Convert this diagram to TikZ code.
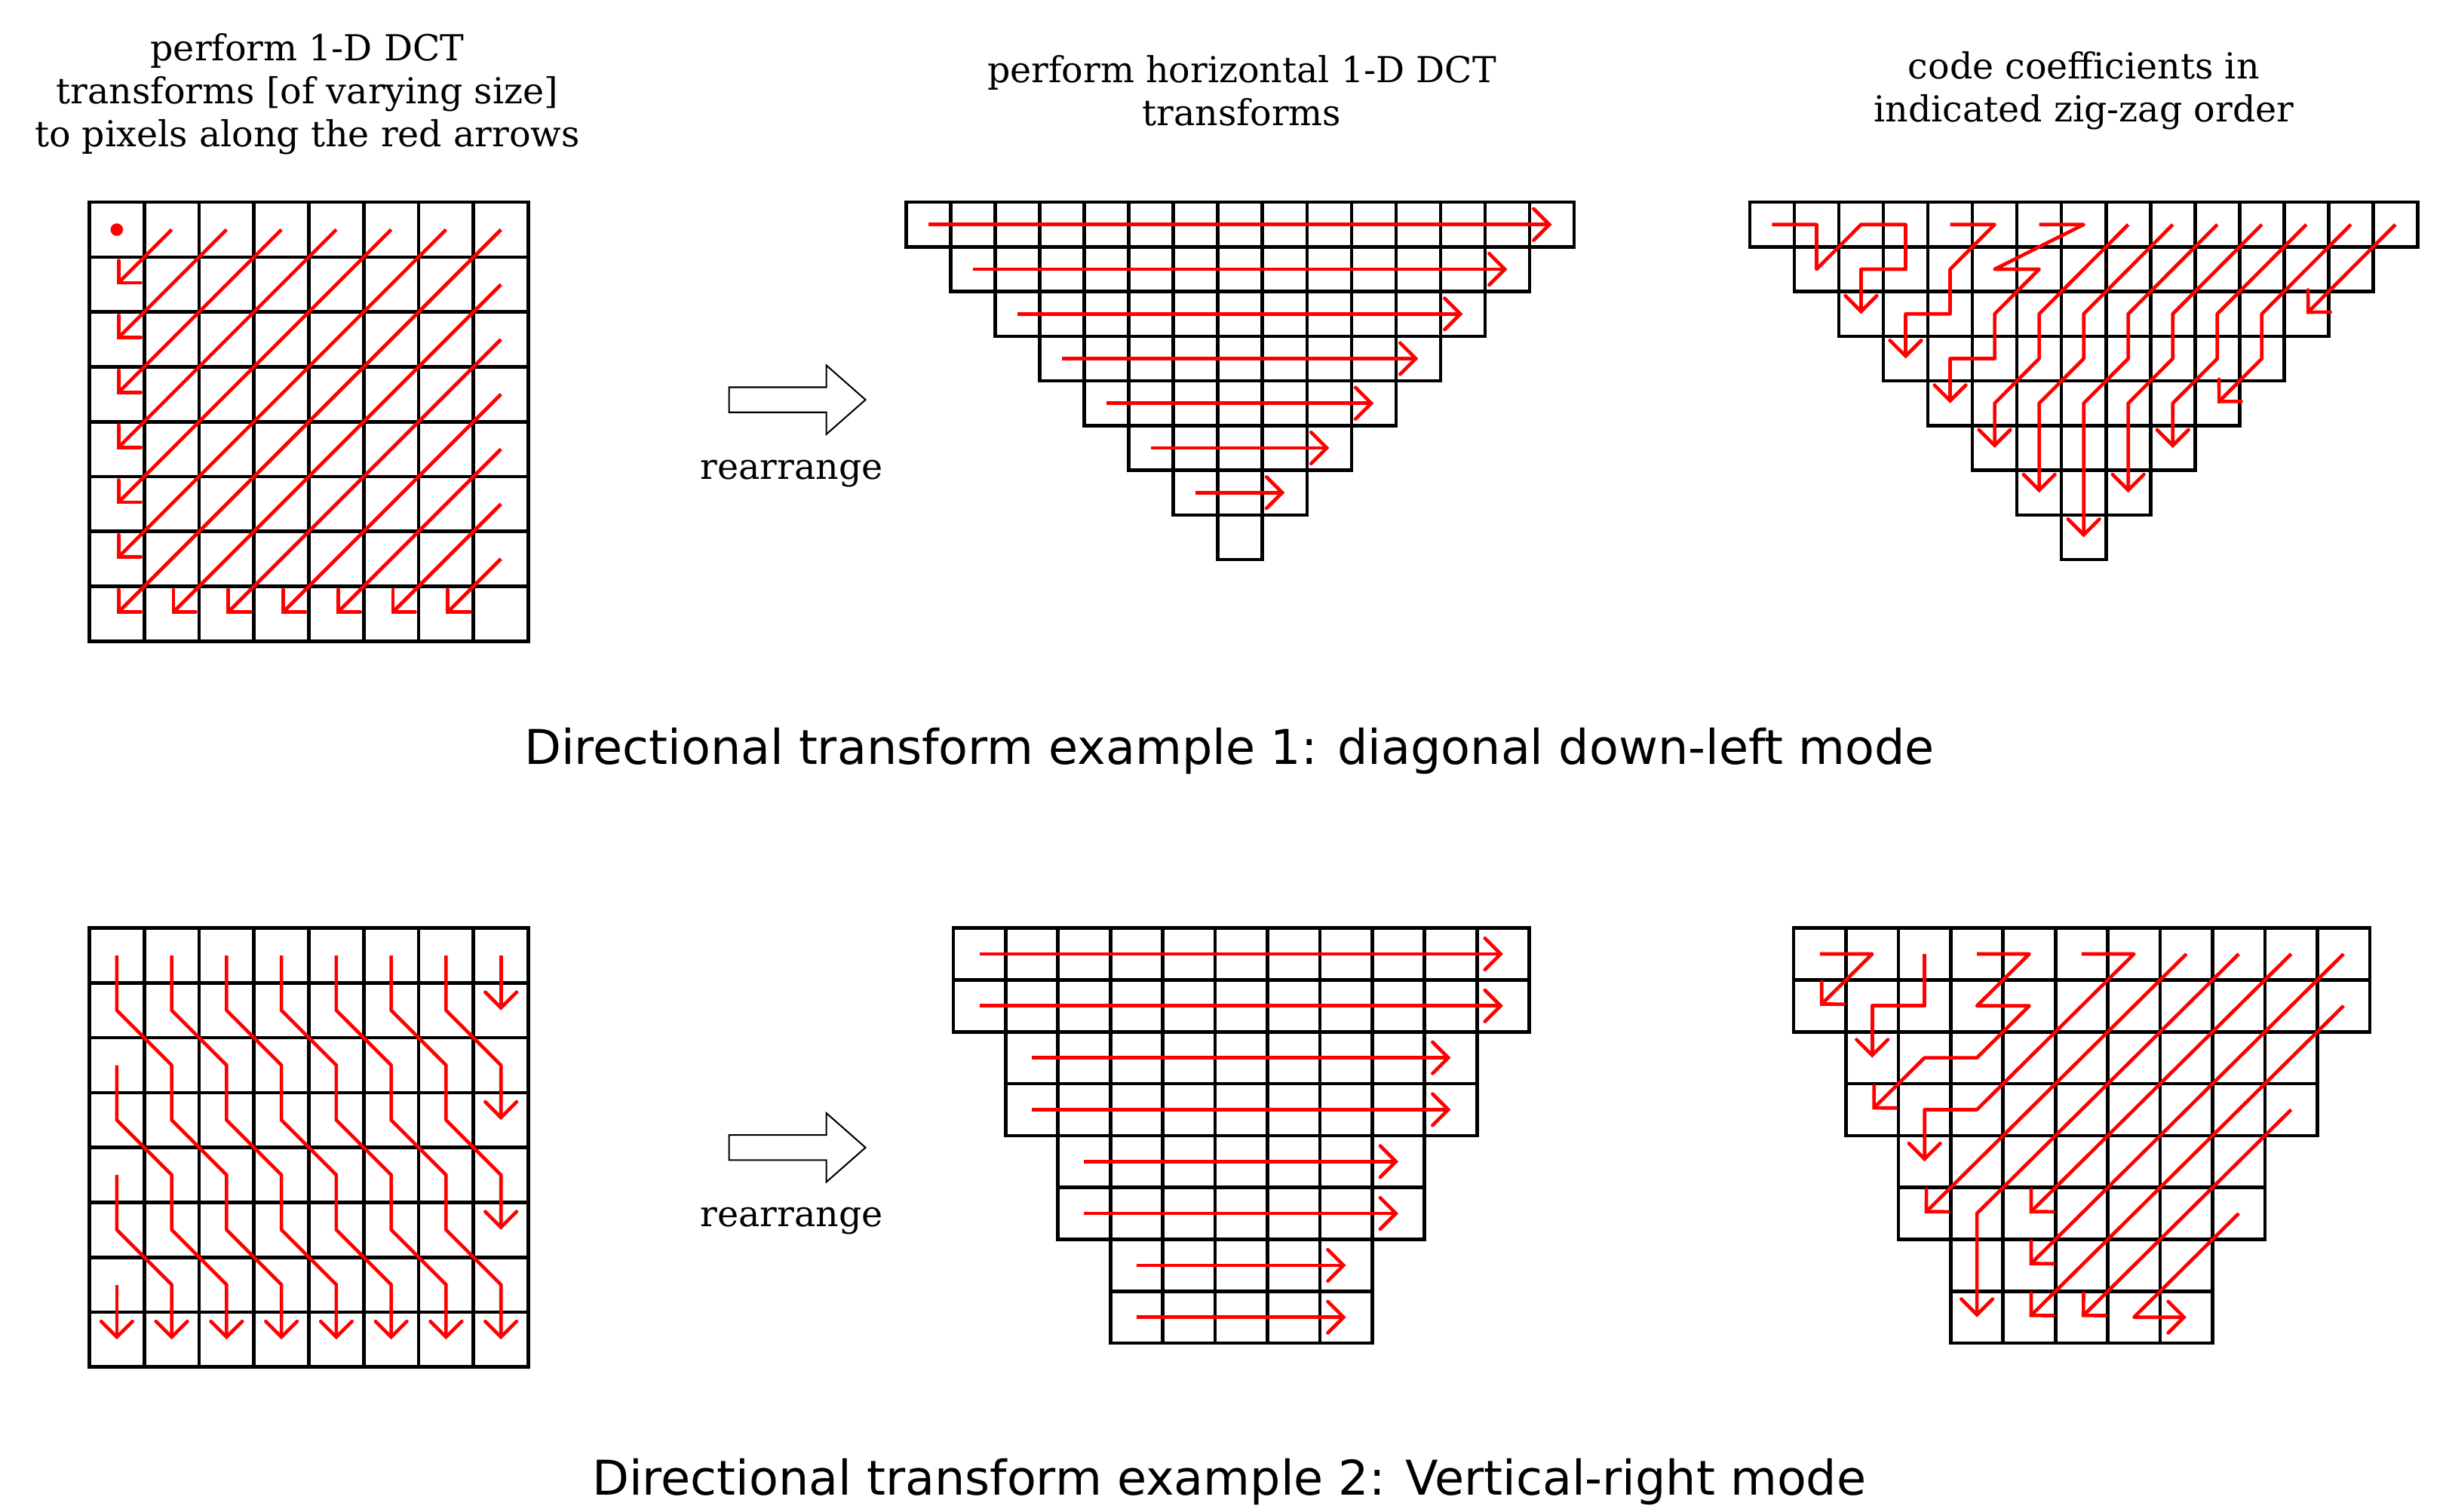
\documentclass[tikz,border=0pt]{standalone}
\usepackage{fontspec}
\setmainfont{DejaVu Serif}
\newfontfamily\sansf{DejaVu Sans}
\usetikzlibrary{arrows.meta}
\begin{document}
\begin{tikzpicture}[x=0.05cm,y=-0.05cm,
  grid/.style={line width=3.2pt, line cap=rect},
  rarr/.style={red, line width=3.2pt, line join=round, -{Straight Barb[length=0.5cm,width=1.0cm,line cap=round]}},
  head/.style={font=\fontsize{32.5}{39}\selectfont, align=center},
  ttl/.style={font=\sansf\fontsize{43.5}{50}\selectfont},
  barrow/.style={line width=1.4pt, fill=white}]
\useasboundingbox (0,0) rectangle (1560,964);

% headers
\node[head] (h1) at (196,60) {perform 1-D DCT\\transforms [of varying size]\\to pixels along the red arrows};
\node[head] (h2) at (792,58) {perform horizontal 1-D DCT\\transforms};
\node[head] (h3) at (1329,58) {code coefficients in\\indicated zig-zag order};
\node[ttl] (t1) at (784,479) {Directional transform example 1: diagonal down-left mode};
\node[ttl] (t2) at (784,945) {Directional transform example 2: Vertical-right mode};
\node[head] (r1) at (505,302) {rearrange};
\node[head] (r2) at (505,779) {rearrange};

% block arrows
\draw[barrow] (465,247)--(527,247)--(527,233)--(552,255)--(527,277)--(527,263)--(465,263)--cycle;
\draw[barrow] (465,724)--(527,724)--(527,710)--(552,732)--(527,754)--(527,740)--(465,740)--cycle;

% ---------- top-left grid ----------
\begin{scope}[xshift=2.85cm,yshift=-6.45cm,x=1.75cm,y=-1.75cm]
  \foreach \i in {0,...,8}{\draw[grid] (\i,0) -- (\i,8); \draw[grid] (0,\i) -- (8,\i);}
  \fill[red] (0.5,0.5) circle (0.2cm);
  \foreach \d in {1,...,13}{
    \pgfmathtruncatemacro\sc{min(\d,7)}
    \pgfmathtruncatemacro\sr{\d-\sc}
    \draw[rarr] (\sc+0.5,\sr+0.5) -- (\sr+0.5,\sc+0.5);
  }
\end{scope}

% ---------- top-middle triangle ----------
\begin{scope}[xshift=28.9cm,yshift=-6.45cm,x=1.42cm,y=-1.425cm]
  \foreach \r in {0,...,7}{
    \pgfmathtruncatemacro\e{14-\r}
    \foreach \c in {\r,...,\e}{\draw[grid] (\c,\r) rectangle ++(1,1);}
  }
  \foreach \r in {0,...,6}{
    \draw[rarr] (\r+0.5,\r+0.5) -- (14.5-\r,\r+0.5);
  }
\end{scope}

% ---------- top-right triangle ----------
\begin{scope}[xshift=55.8cm,yshift=-6.45cm,x=1.42cm,y=-1.425cm]
  \foreach \r in {0,...,7}{
    \pgfmathtruncatemacro\e{14-\r}
    \foreach \c in {\r,...,\e}{\draw[grid] (\c,\r) rectangle ++(1,1);}
  }
  \draw[rarr] (0.5,0.5)--(1.5,0.5)--(1.5,1.5)--(2.5,0.5)--(3.5,0.5)--(3.5,1.5)--(2.5,1.5)--(2.5,2.5);
  \draw[rarr] (4.5,0.5)--(5.5,0.5)--(4.5,1.5)--(4.5,2.5)--(3.5,2.5)--(3.5,3.5);
  \draw[rarr] (6.5,0.5)--(7.5,0.5)--(5.5,1.5)--(6.5,1.5)--(5.5,2.5)--(5.5,3.5)--(4.5,3.5)--(4.5,4.5);
  \draw[rarr] (8.5,0.5)--(6.5,2.5)--(6.5,3.5)--(5.5,4.5)--(5.5,5.5);
  \draw[rarr] (9.5,0.5)--(7.5,2.5)--(7.5,3.5)--(6.5,4.5)--(6.5,6.5);
  \draw[rarr] (10.5,0.5)--(8.5,2.5)--(8.5,3.5)--(7.5,4.5)--(7.5,7.5);
  \draw[rarr] (11.5,0.5)--(9.5,2.5)--(9.5,3.5)--(8.5,4.5)--(8.5,6.5);
  \draw[rarr] (12.5,0.5)--(10.5,2.5)--(10.5,3.5)--(9.5,4.5)--(9.5,5.5);
  \draw[rarr] (13.5,0.5)--(11.5,2.5)--(11.5,3.5)--(10.5,4.5);
  \draw[rarr] (14.5,0.5)--(12.5,2.5);
\end{scope}

% ---------- bottom-left grid ----------
\begin{scope}[xshift=2.85cm,yshift=-29.6cm,x=1.75cm,y=-1.75cm]
  \foreach \i in {0,...,8}{\draw[grid] (\i,0) -- (\i,8); \draw[grid] (0,\i) -- (8,\i);}
  \foreach \c in {0,...,4}{
    \draw[rarr] (\c+0.5,0.5) -- ++(0,1) -- ++(1,1) -- ++(0,1) -- ++(1,1) -- ++(0,1) -- ++(1,1) -- ++(0,1);
  }
  \draw[rarr] (5.5,0.5) -- ++(0,1) -- ++(1,1) -- ++(0,1) -- ++(1,1) -- ++(0,1);
  \draw[rarr] (6.5,0.5) -- ++(0,1) -- ++(1,1) -- ++(0,1);
  \draw[rarr] (7.5,0.5) -- ++(0,1);
  \draw[rarr] (0.5,2.5) -- ++(0,1) -- ++(1,1) -- ++(0,1) -- ++(1,1) -- ++(0,1);
  \draw[rarr] (0.5,4.5) -- ++(0,1) -- ++(1,1) -- ++(0,1);
  \draw[rarr] (0.5,6.5) -- ++(0,1);
\end{scope}

% ---------- bottom-middle trapezoid ----------
\begin{scope}[xshift=30.4cm,yshift=-29.6cm,x=1.67cm,y=-1.655cm]
  \foreach \r in {0,...,7}{
    \pgfmathtruncatemacro\L{int(\r/2)}
    \pgfmathtruncatemacro\e{10-\L}
    \foreach \c in {\L,...,\e}{\draw[grid] (\c,\r) rectangle ++(1,1);}
    \draw[rarr] (\L+0.5,\r+0.5) -- (10.5-\L,\r+0.5);
  }
\end{scope}

% ---------- bottom-right trapezoid ----------
\begin{scope}[xshift=57.2cm,yshift=-29.6cm,x=1.67cm,y=-1.655cm]
  \foreach \r in {0,...,7}{
    \pgfmathtruncatemacro\L{int(\r/2)}
    \pgfmathtruncatemacro\e{10-\L}
    \foreach \c in {\L,...,\e}{\draw[grid] (\c,\r) rectangle ++(1,1);}
  }
  \draw[rarr] (0.5,0.5)--(1.5,0.5)--(0.5,1.5);
  \draw[rarr] (2.5,0.5)--(2.5,1.5)--(1.5,1.5)--(1.5,2.5);
  \draw[rarr] (3.5,0.5)--(4.5,0.5)--(3.5,1.5)--(4.5,1.5)--(3.5,2.5)--(2.5,2.5)--(1.5,3.5);
  \draw[rarr] (5.5,0.5)--(6.5,0.5)--(3.5,3.5)--(2.5,3.5)--(2.5,4.5);
  \draw[rarr] (7.5,0.5)--(2.5,5.5);
  \draw[rarr] (8.5,0.5)--(3.5,5.5)--(3.5,7.5);
  \draw[rarr] (9.5,0.5)--(4.5,5.5);
  \draw[rarr] (10.5,0.5)--(4.5,6.5);
  \draw[rarr] (10.5,1.5)--(4.5,7.5);
  \draw[rarr] (9.5,3.5)--(5.5,7.5);
  \draw[rarr] (8.5,5.5)--(6.5,7.5)--(7.5,7.5);
\end{scope}
\end{tikzpicture}
\end{document}
